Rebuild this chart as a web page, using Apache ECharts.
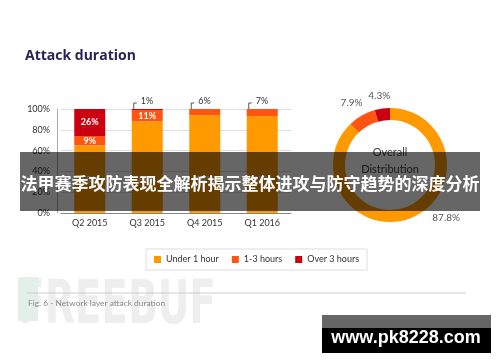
<!DOCTYPE html>
<html>
<head>
<meta charset="utf-8">
<script src="https://cdn.jsdelivr.net/npm/echarts@6/dist/echarts.min.js"></script>
<style>
html,body{margin:0;padding:0;background:#fff;}
#chart{width:500px;height:362px;}
</style>
</head>
<body>
<div id="chart"></div>
<script>
// ---- data ----
const categories = ['Q2 2015', 'Q3 2015', 'Q4 2015', 'Q1 2016'];
const seriesNames = ['Under 1 hour', '1-3 hours', 'Over 3 hours'];
const under1h = [65, 88, 94, 93];
const h1to3 = [9, 11, 6, 7];
const over3h = [26, 1, 0, 0];
const yTickValues = [0, 20, 40, 60, 80, 100];
const overallNames = ['Under 1 hour', '1-3 hours', 'Over 3 hours'];
const overallValues = [87.8, 7.9, 4.3];
const chartTitle = 'Attack duration';
const donutCenterText = 'Overall\nDistribution';
const captionText = 'Fig. 6 - Network layer attack duration';
const bannerText = '法甲赛季攻防表现全解析揭示整体进攻与防守趋势的深度分析';
const watermarkText = 'www.pk8228.com';
const logoText = 'FREEBUF';

const colors = ['#ff9900', '#ff5511', '#cc0011'];
const font = 'Lato, "Open Sans", sans-serif';
const pieLabelNudge = [[9, -8], [16, -10], [18, -5]];

// callouts: small top segment of each stack
const callouts = categories.map((c, i) => {
  const segs = [under1h[i], h1to3[i], over3h[i]];
  let top = segs.length - 1;
  while (top > 0 && segs[top] === 0) top--;
  return segs[top] < 8 ? [i, segs[0] + segs[1] + segs[2], segs[top] + '%'] : null;
}).filter(Boolean);

const insideLabel = (min) => ({
  show: true,
  position: 'inside',
  color: '#fff',
  fontWeight: 'bold',
  fontSize: 9,
  fontFamily: font,
  formatter: (p) => (p.value >= min ? p.value + '%' : '')
});

const chart = echarts.init(document.getElementById('chart'), null, {renderer: 'canvas'});
chart.setOption({
  animation: false,
  color: colors,
  title: {
    text: chartTitle,
    left: 20, top: 44,
    textStyle: {color: '#2a2456', fontSize: 14, fontWeight: 'bold', fontFamily: '"Open Sans", sans-serif'}
  },
  legend: {
    data: seriesNames,
    left: 146, top: 249,
    padding: [6, 8, 6, 8],
    borderColor: '#dddddd', borderWidth: 1,
    itemWidth: 7, itemHeight: 7, itemGap: 13,
    icon: 'rect',
    textStyle: {color: '#333', fontSize: 9, fontFamily: font}
  },
  grid: {left: 61, right: 209, top: 109, bottom: 149},
  xAxis: {
    type: 'category',
    data: categories,
    axisTick: {show: false},
    axisLine: {lineStyle: {color: '#888', width: 1}},
    axisLabel: {color: '#333', fontSize: 9, fontFamily: font, margin: 6}
  },
  yAxis: {
    type: 'value',
    min: 0, max: 100, interval: 20,
    offset: 4,
    axisLine: {show: true, lineStyle: {color: '#aaa'}},
    axisTick: {show: false},
    splitLine: {lineStyle: {color: '#dddddd'}},
    axisLabel: {color: '#333', fontSize: 9, fontFamily: font, margin: 7,
      formatter: (v) => (yTickValues.includes(v) ? v + '%' : '')}
  },
  series: [
    {
      name: seriesNames[0], type: 'bar', stack: 'd', barWidth: 31,
      data: under1h,
      label: {show: true, position: 'insideBottom', distance: 28, color: '#fff', fontWeight: 'bold', fontSize: 9, fontFamily: font, formatter: '{c}%'}
    },
    {name: seriesNames[1], type: 'bar', stack: 'd', barWidth: 31, data: h1to3, label: insideLabel(8)},
    {name: seriesNames[2], type: 'bar', stack: 'd', barWidth: 31, data: over3h, label: insideLabel(8)},
    {
      type: 'custom',
      silent: true,
      data: callouts,
      renderItem: (params, api) => {
        const pt = api.coord([api.value(0), api.value(1)]);
        const x = pt[0] - 13.5, y = pt[1];
        return {
          type: 'group',
          children: [
            {type: 'polyline', shape: {points: [[x, y], [x, y - 6], [x + 3, y - 6]]}, style: {stroke: '#555', lineWidth: 1, fill: null}},
            {type: 'text', style: {text: api.value(2), x: x + 7, y: y - 8, textVerticalAlign: 'middle', fill: '#333', fontSize: 9, fontFamily: font}}
          ]
        };
      }
    },
    {
      type: 'pie',
      center: [390, 165],
      radius: [45, 57],
      startAngle: 90,
      clockwise: true,
      data: overallNames.map((n, i) => ({name: n, value: overallValues[i], itemStyle: {color: colors[i]}})),
      label: {show: true, position: 'outside', color: '#555', fontSize: 10, fontFamily: font, formatter: '{c}%'},
      labelLine: {show: false, length: 8, length2: 4},
      labelLayout: (p) => ({dx: pieLabelNudge[p.dataIndex][0], dy: pieLabelNudge[p.dataIndex][1]}),
      emphasis: {disabled: true}
    }
  ],
  graphic: [
    {type: 'text', z: -10, x: 18, y: 277, scaleY: 1.55, style: {text: logoText, x: 0, y: 0, textVerticalAlign: 'top', fill: '#eeeeee', fontSize: 39, fontWeight: 'bold', fontFamily: '"DejaVu Sans", sans-serif'}},
    {type: 'rect', shape: {x: 18, y: 277, width: 20, height: 44}, z: -9, style: {fill: '#e3efe8'}},
    {type: 'line', shape: {x1: 27, y1: 293, x2: 466, y2: 293}, style: {stroke: '#cccccc', lineWidth: 1}},
    {type: 'text', left: 28, top: 299, style: {text: captionText, fill: '#888', fontSize: 8.4, fontFamily: font}},
    {type: 'text', style: {text: donutCenterText, x: 390, y: 161, textAlign: 'center', textVerticalAlign: 'middle', fill: '#444', fontSize: 11, lineHeight: 17, fontFamily: font}},
    {type: 'rect', z: 100, shape: {x: 20, y: 152, width: 460, height: 59}, style: {fill: 'rgba(0,0,0,0.6)'}},
    {type: 'text', z: 101, style: {text: bannerText, x: 250, y: 184, textAlign: 'center', textVerticalAlign: 'middle', fill: '#fff', fontSize: 17, fontWeight: 'bold', fontFamily: '"Noto Sans CJK SC", sans-serif'}},
    {type: 'rect', z: 100, shape: {x: 322, y: 315, width: 169, height: 13}, style: {fill: '#666666'}},
    {type: 'rect', z: 100, shape: {x: 322, y: 328, width: 169, height: 25}, style: {fill: '#000000'}},
    {type: 'text', z: 101, style: {text: watermarkText, x: 406, y: 338, textAlign: 'center', textVerticalAlign: 'middle', fill: '#fff', fontSize: 18, fontWeight: 'bold', fontFamily: '"Liberation Sans", sans-serif'}}
  ]
});
</script>
</body>
</html>
